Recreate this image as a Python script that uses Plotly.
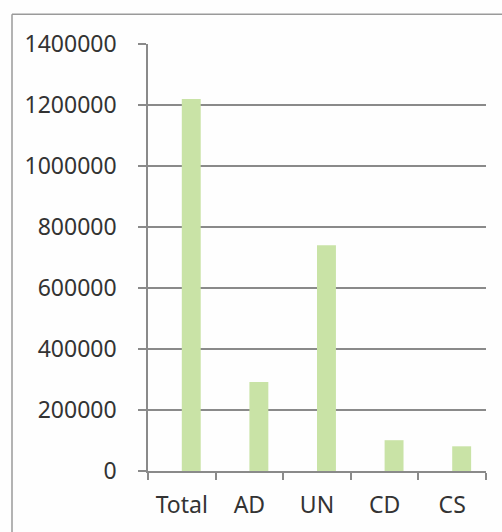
import plotly.graph_objects as go

categories = ["Total", "AD", "UN", "CD", "CS"]
values = [1220000, 292000, 740000, 101000, 81000]
y_ticks = [0, 200000, 400000, 600000, 800000, 1000000, 1200000, 1400000]

W, H = 502, 532
L, R, T, B = 148, 16, 44, 59
pw, ph = W - L - R, H - T - B

fig = go.Figure()
fig.add_trace(go.Bar(
    x=categories, y=values,
    width=0.28, offset=0,
    marker=dict(color="#c9e3a6", line=dict(width=0)),
))

font = dict(family="Noto Sans", size=23, color="#333333")

bx0 = (12 - L) / pw
by1 = (T + ph - 14) / ph
border = dict(color="#9a9a9a", width=1.5)

fig.update_layout(
    width=W, height=H,
    margin=dict(l=L, r=R, t=T, b=B),
    paper_bgcolor="#fefefe",
    plot_bgcolor="#fefefe",
    showlegend=False,
    font=font,
    xaxis=dict(
        type="category",
        range=[-0.5, 4.5],
        showgrid=False,
        showline=True, linecolor="#8a8a8a", linewidth=1.5,
        ticks="outside", tickson="boundaries", ticklen=7,
        tickcolor="#8a8a8a", tickwidth=1.5,
        tickfont=font,
        ticklabelstandoff=13,
    ),
    yaxis=dict(
        range=[0, 1400000],
        tickvals=y_ticks,
        ticktext=[str(v) for v in y_ticks],
        showgrid=True, gridcolor="#8a8a8a", gridwidth=1.5,
        showline=True, linecolor="#8a8a8a", linewidth=1.5,
        zeroline=False,
        ticks="outside", ticklen=8, tickcolor="#8a8a8a", tickwidth=1.5,
        tickfont=font,
        ticklabelstandoff=17,
    ),
    shapes=[
        dict(type="line", xref="paper", yref="paper",
             x0=bx0, x1=(W + 10 - L) / pw, y0=by1, y1=by1, line=border, layer="below"),
        dict(type="line", xref="paper", yref="paper",
             x0=bx0, x1=bx0, y0=-(B + 10) / ph, y1=by1, line=border, layer="below"),
    ],
)

fig.write_html("out.html")
